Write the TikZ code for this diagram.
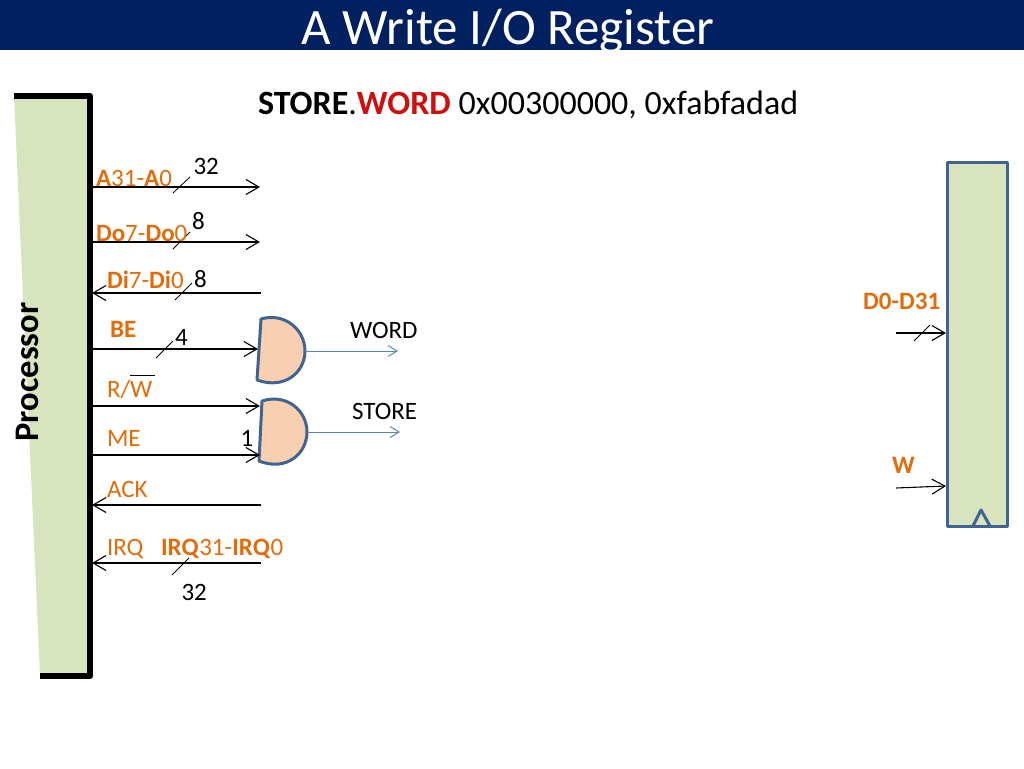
\documentclass[tikz,border=0pt]{standalone}
\usepackage{fontspec}
\setmainfont{Carlito}
\usetikzlibrary{arrows.meta}
\definecolor{barblue}{HTML}{002060}
\definecolor{sigorange}{HTML}{E36C0A}
\definecolor{wordred}{HTML}{CC0F0F}
\definecolor{panelgreen}{HTML}{D7E4BD}
\definecolor{gatefill}{HTML}{F8CFB0}
\definecolor{edgeblue}{HTML}{3F6490}
\definecolor{outblue}{HTML}{5B86BD}
\tikzset{
  x=1pt,y=-1pt,
  lbl/.style={inner sep=0pt,outer sep=0pt,anchor=base west,font=\fontsize{25}{30}\selectfont},
  siglbl/.style={lbl,text=sigorange},
  wire/.style={draw=black,line width=1.1pt},
  wiretip/.style={wire,-{Straight Barb[length=13pt,width=15pt,line width=1.1pt]}},
  slash/.style={draw=black,line width=0.8pt},
  outwire/.style={draw=outblue,line width=1pt,-{Straight Barb[length=9pt,width=11pt,line width=1pt]}},
  gate/.style={draw=edgeblue,fill=gatefill,line width=3pt,line join=round},
  regbox/.style={draw=edgeblue,fill=panelgreen,line width=3pt,line join=round},
}
\begin{document}
\begin{tikzpicture}
\useasboundingbox (0,0) rectangle (1024,768);
% title
\fill[barblue] (0,0) rectangle (1024,50);
\node[inner sep=0pt,anchor=base,text=white,font=\fontsize{51}{60}\selectfont] (title) at (508,44.5) {A Write I/O Register};
\node[lbl,font=\fontsize{34}{40}\selectfont] (instr) at (258,114) {\textbf{STORE}.\textcolor{wordred}{\textbf{WORD}} 0x00300000, 0xfabfadad};
% processor
\fill[panelgreen] (14,96) -- (90,96) -- (90,676) -- (40,676) -- cycle;
\draw[black,line width=6pt,line join=round] (14,96) -- (90,96) -- (90,676) -- (40,676);
\node[rotate=90,inner sep=0pt,anchor=base,font=\bfseries\fontsize{34.5}{40}\selectfont] (proc) at (38,372) {Processor};
% anchors on the processor edge
\coordinate (pa) at (93,187);
\coordinate (pdo) at (93,242);
\coordinate (pdi) at (92,293);
\coordinate (pbe) at (93,349);
\coordinate (prw) at (93,406);
\coordinate (pme) at (93,455);
\coordinate (pack) at (92,505);
\coordinate (pirq) at (92,563);
\coordinate (ea) at (260,187);
\coordinate (edo) at (260,242);
\coordinate (edi) at (261,293);
\coordinate (eack) at (261,505);
\coordinate (eirq) at (261,563);
% gates
\draw[gate] (261,319) .. controls (285,312) and (305,330) .. (305,351) .. controls (305,372) and (285,390) .. (257,380) -- cycle;
\draw[gate] (262,401) .. controls (287,393) and (307,411) .. (307,432) .. controls (307,453) and (287,472) .. (259,461) -- cycle;
\coordinate (g1in) at (258,349);
\coordinate (g1out) at (305,351);
\coordinate (g2in1) at (260,406);
\coordinate (g2in2) at (260,455);
\coordinate (g2out) at (307,432);
\coordinate (o1) at (398,351);
\coordinate (o2) at (400,432);
% wires
\draw[wiretip] (pa) -- (ea);
\draw[wiretip] (pdo) -- (edo);
\draw[wiretip] (edi) -- (pdi);
\draw[wiretip] (pbe) -- (g1in);
\draw[wiretip] (prw) -- (g2in1);
\draw[wiretip] (pme) -- (g2in2);
\draw[wiretip] (eack) -- (pack);
\draw[wiretip] (eirq) -- (pirq);
\draw[outwire] (g1out) -- (o1);
\draw[outwire] (g2out) -- (o2);
% slashes
\draw[slash] (173,193) -- (190,177);
\draw[slash] (173,249) -- (190,232);
\draw[slash] (175,300) -- (192,283);
\draw[slash] (156,358) -- (173,341);
\draw[slash] (172,575) -- (189,558);
% labels
\node[siglbl] (la) at (96,186) {\textbf{A}31-\textbf{A}0};
\node[siglbl] (ldo) at (96,241) {\textbf{Do}7-\textbf{Do}0};
\node[siglbl] (ldi) at (107,288) {\textbf{Di}7-\textbf{Di}0};
\node[siglbl] (lbe) at (110,337) {\textbf{BE}};
\node[siglbl] (lrw) at (107,397) {R/W};
\draw[black,line width=0.8pt] (130,375) -- (155,375);
\node[siglbl] (lme) at (107,446) {ME};
\node[siglbl] (lack) at (107,497) {ACK};
\node[siglbl] (lirq) at (107,555) {IRQ};
\node[siglbl] (lirqb) at (161,555) {\textbf{IRQ}31-\textbf{IRQ}0};
\node[lbl] (n32a) at (193.5,174) {32};
\node[lbl] (n8a) at (192,229) {8};
\node[lbl] (n8b) at (194,287) {8};
\node[lbl] (n4) at (175,345) {4};
\node[lbl] (n1) at (240.5,446) {1};
\node[lbl] (n32b) at (181.5,600) {32};
\node[lbl] (lword) at (350,338) {WORD};
\node[lbl] (lstore) at (352,419.5) {STORE};
% register
\draw[regbox] (947,162) rectangle (1007,526);
\draw[draw=edgeblue,line width=3pt,line join=round] (973,526) -- (981,510) -- (990,526);
\coordinate (rd) at (946,333);
\coordinate (rw) at (946,486);
\coordinate (sd) at (896,333);
\coordinate (sw) at (896,488);
\draw[wiretip] (sd) -- (rd);
\draw[wiretip] (sw) -- (rw);
\draw[slash] (914,341) -- (930,325);
\node[siglbl] (ld) at (863,309.5) {\textbf{D0-D31}};
\node[siglbl] (lw) at (892,473) {\textbf{W}};
\end{tikzpicture}
\end{document}
